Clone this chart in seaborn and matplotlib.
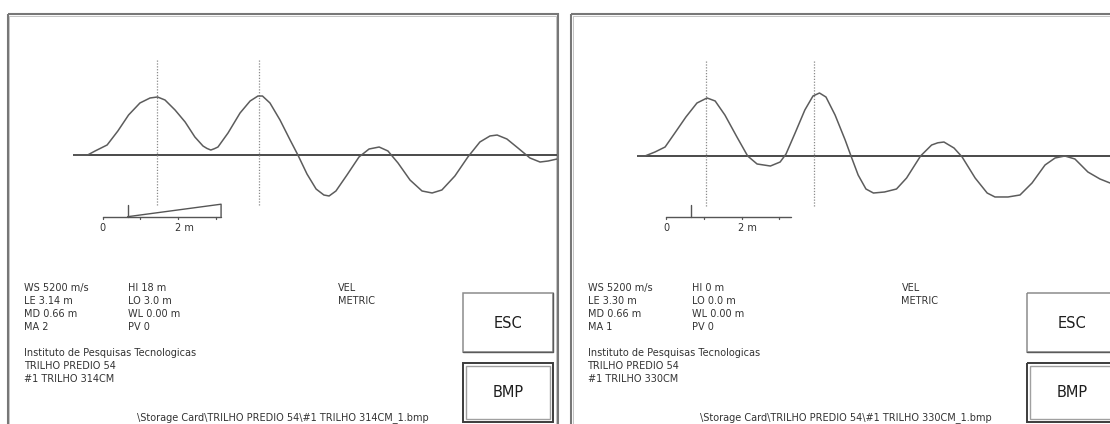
import matplotlib
matplotlib.use("Agg")
import matplotlib.pyplot as plt
from matplotlib.patches import Rectangle
import pandas as pd
import seaborn as sns

W, H = 1110, 424

# Ultrasonic A-scan traces: distance along the trace (m) and relative amplitude (%)
trace_314_dist = [0.00, 0.45, 0.68, 1.05, 1.38, 1.71, 2.06, 2.37, 2.60, 2.83,
                  3.14, 3.45, 3.75, 4.00, 4.12, 4.24, 4.35, 4.46, 4.77, 5.14, 5.45, 5.69,
                  5.83, 6.06, 6.37, 6.68, 6.92, 7.20, 7.48, 7.72, 7.88, 8.09,
                  8.43, 8.80, 9.11, 9.42, 9.69, 10.00, 10.37, 10.74, 11.05, 11.35,
                  11.75, 12.15, 12.52, 12.83, 13.05, 13.35, 13.69, 14.06, 14.37, 14.62,
                  14.89]
trace_314_amp = [0, 0, 6.7, 16.7, 40, 66.7, 86.7, 95, 96.7, 91.7,
                 75, 55, 30, 15, 11, 8.3, 10.5, 13.3, 36.7, 70, 90, 98.3,
                 98.3, 86.7, 58.3, 25, 0, -31.7, -56.7, -66.7, -68.3, -60,
                 -33.3, -3.3, 10, 13.3, 6.7, -13.3, -41.7, -60, -63.3, -58.3,
                 -35, -3.3, 21.7, 31.7, 33.3, 26.7, 11.7, -5, -11.7, -10,
                 -6.7]

trace_330_dist = [0.00, 0.26, 0.57, 0.88, 1.18, 1.52, 1.86, 2.17, 2.42, 2.72,
                  3.09, 3.42, 3.71, 4.12, 4.42, 4.60, 4.88, 5.18, 5.43, 5.63,
                  5.83, 6.11, 6.42, 6.60, 6.82, 7.06, 7.29, 7.63, 8.00, 8.31,
                  8.74, 9.08, 9.27, 9.46, 9.77, 10.02, 10.42, 10.79, 11.03, 11.43, 11.80,
                  12.17, 12.57, 12.88, 13.18, 13.49, 13.89, 14.26, 14.57]
trace_330_amp = [0, 0, 6.7, 15, 38.3, 65, 88.3, 96.7, 91.7, 68.3,
                 31.7, 0, -13.3, -16.7, -10, 3.3, 38.3, 76.7, 100, 105,
                 98.3, 68.3, 26.7, 0, -31.7, -55, -61.7, -60, -55, -36.7,
                 0, 18.3, 22, 23.3, 13.3, -1.7, -36.7, -61.7, -68.3, -68.3, -65,
                 -45, -15, -3.3, 0, -5, -26.7, -38.3, -45]

# Cursor positions on each trace (m)
cursors_314 = [2.58, 5.72]
cursors_330 = [2.13, 5.46]

# Instrument settings shown under each trace
settings_314 = {"WS": 5200, "LE": 3.14, "MD": 0.66, "MA": 2, "HI": 18, "LO": 3.0, "WL": 0.00, "PV": 0}
settings_330 = {"WS": 5200, "LE": 3.30, "MD": 0.66, "MA": 1, "HI": 0, "LO": 0.0, "WL": 0.00, "PV": 0}

# Distance-scale ticks (m) and labels
scale_ticks = [0, 1, 2, 3]
scale_labels = {0: "0", 2: "2 m"}
# Height of the gain wedge drawn on the distance scale (screen px), per record
wedge_314 = 12.5
wedge_330 = 0.0

organisation = "Instituto de Pesquisas Tecnologicas"
project = "TRILHO PREDIO 54"
record_314 = "#1 TRILHO 314CM"
record_330 = "#1 TRILHO 330CM"

sns.set_theme(style="white")
plt.rcParams["font.family"] = ["DejaVu Sans"]

INK = "#333333"
TRACE = "#5c5c5c"
FRAME = "#777777"

fig = plt.figure(figsize=(W / 100, H / 100), dpi=100)
fig.patch.set_facecolor("white")

screen = fig.add_axes([0, 0, 1, 1])
screen.set_xlim(0, W)
screen.set_ylim(H, 0)
screen.axis("off")


def px_axes(x0, y0, x1, y1):
    ax = fig.add_axes([x0 / W, 1 - y1 / H, (x1 - x0) / W, (y1 - y0) / H])
    ax.patch.set_alpha(0)
    ax.axis("off")
    return ax


def draw_panel(left, dist, amp, cursors, settings, wedge, record, baseline_y):
    panel_w = 550.2
    # screen frame (double line)
    screen.add_patch(Rectangle((left, 14), panel_w, 440, fill=False,
                               edgecolor=FRAME, linewidth=1.5))
    screen.add_patch(Rectangle((left + 1.5, 15.5), panel_w - 3, 440, fill=False,
                               edgecolor="#c4c4c4", linewidth=0.7))

    # waveform
    px_per_m = 32.5
    amp_per_px = 1 / 0.6
    x0, x1 = left + 65.5, left + panel_w - 1
    y0, y1 = 40, 240
    ax = px_axes(x0, y0, x1, y1)
    ax.set_xlim(0, (x1 - x0) / px_per_m)
    ax.set_ylim(-(y1 - baseline_y) * amp_per_px, (baseline_y - y0) * amp_per_px)
    ax.axhline(0, color="#4a4a4a", linewidth=1.4, zorder=1)
    ax.vlines(cursors, -83, 160, colors="#8a8a8a", linewidth=0.9,
              linestyles=(0, (1, 1.3)), zorder=1)
    df = pd.DataFrame({"dist": dist, "amp": amp})
    sns.lineplot(data=df, x="dist", y="amp", ax=ax, color=TRACE,
                 linewidth=1.1, estimator=None, sort=False, zorder=2,
                 solid_joinstyle="round", solid_capstyle="round")
    ax.axis("off")

    # distance scale
    s_px = 37.7
    sx0 = left + 95.2
    sb = 216.7
    sax = px_axes(sx0 - 10, 195, sx0 + s_px * 4, 240)
    sax.set_xlim(-10 / s_px, 4)
    sax.set_ylim(-(240 - sb), sb - 195)
    le, md = settings["LE"], settings["MD"]
    sax.plot([0, le], [0, 0], color="#555555", linewidth=1.0)
    for t in scale_ticks:
        if t <= le:
            sax.plot([t, t], [0, -2], color="#555555", linewidth=0.9)
    sax.plot([md, md], [0, 11.5], color="#555555", linewidth=1.0)
    if wedge > 0:
        sax.plot([md, le, le], [0, wedge, 0], color="#555555", linewidth=1.0)
    for t, lab in scale_labels.items():
        if lab == "0":
            sax.text(t, -11.5, lab, ha="center", va="center", fontsize=7, color=INK)
        else:
            sax.text(t - 3.5 / s_px, -11.5, lab, ha="left", va="center", fontsize=7, color=INK)

    # settings block
    col1 = [f"WS {settings['WS']} m/s", f"LE {settings['LE']:.2f} m",
            f"MD {settings['MD']:.2f} m", f"MA {settings['MA']}"]
    col2 = [f"HI {settings['HI']} m", f"LO {settings['LO']:.1f} m",
            f"WL {settings['WL']:.2f} m", f"PV {settings['PV']}"]
    rows = [288, 301, 314, 327]
    for y, a, b in zip(rows, col1, col2):
        screen.text(left + 16.5, y, a, ha="left", va="center", fontsize=7, color=INK)
        screen.text(left + 120.5, y, b, ha="left", va="center", fontsize=7, color=INK)
    screen.text(left + 330.5, 288, "VEL", ha="left", va="center", fontsize=7, color=INK)
    screen.text(left + 330.5, 301, "METRIC", ha="left", va="center", fontsize=7, color=INK)

    for y, line in zip([353, 366, 379], [organisation, project, record]):
        screen.text(left + 16.5, y, line, ha="left", va="center", fontsize=7, color=INK)

    screen.text(left + 275, 418, f"\\Storage Card\\{project}\\{record}_1.bmp",
                ha="center", va="center", fontsize=7, color=INK)

    # buttons
    bx = left + 455.8
    screen.add_patch(Rectangle((bx, 293.3), 90, 58.4, fill=False,
                               edgecolor="#8c8c8c", linewidth=1.1))
    screen.plot([bx, bx + 90, bx + 90], [351.7, 351.7, 293.3], color="#5a5a5a", linewidth=1.0)
    screen.text(bx + 45, 323, "ESC", ha="center", va="center", fontsize=10.5, color="#1e1e1e")
    screen.add_patch(Rectangle((bx, 363.3), 90, 58.4, fill=False,
                               edgecolor="#3c3c3c", linewidth=1.4))
    screen.add_patch(Rectangle((bx + 3, 366.3), 84, 52.4, fill=False,
                               edgecolor="#a0a0a0", linewidth=1.0))
    screen.text(bx + 45, 392.5, "BMP", ha="center", va="center", fontsize=10.5, color="#1e1e1e")


draw_panel(7.5, trace_314_dist, trace_314_amp, cursors_314, settings_314,
           wedge_314, record_314, 155)
draw_panel(571, trace_330_dist, trace_330_amp, cursors_330, settings_330,
           wedge_330, record_330, 156)

fig.savefig("out.png", dpi=100, facecolor="white")
